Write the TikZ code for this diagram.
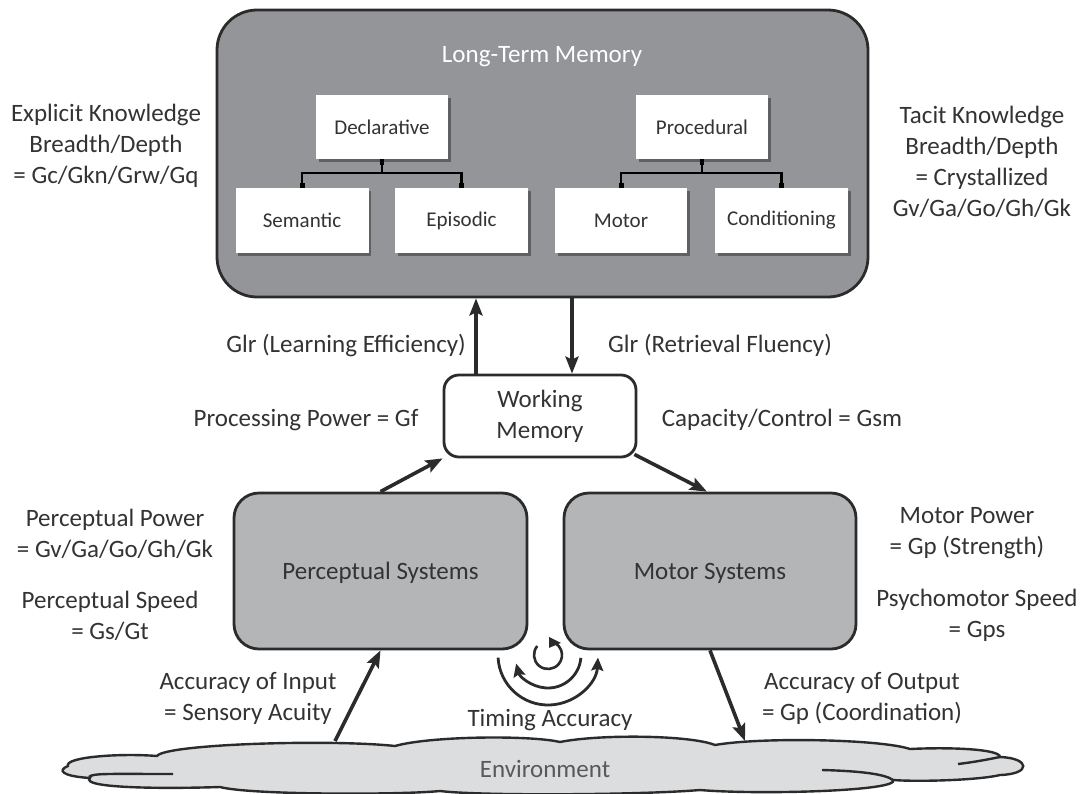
\documentclass[tikz,border=0pt]{standalone}
\usepackage{fontspec}
\setmainfont{Carlito}
\usetikzlibrary{arrows.meta,shadows}
\definecolor{dark}{HTML}{2B2B2B}
\definecolor{txt}{HTML}{333333}
\definecolor{ltmfill}{HTML}{939598}
\definecolor{sysfill}{HTML}{B4B5B7}
\definecolor{cloudfill}{HTML}{DCDDDF}
\definecolor{envtxt}{HTML}{58595B}
\begin{document}
\begin{tikzpicture}[x=1pt,y=-1pt,
  every node/.style={text=txt, font=\fontsize{25}{31}\selectfont, align=center, inner sep=0pt},
  bigbox/.style={draw=dark, line width=2.8pt, rounded corners=#1},
  smallbox/.style={draw=none, fill=white, font=\fontsize{21}{25}\selectfont,
     drop shadow={shadow xshift=2.5pt, shadow yshift=-2.5pt, opacity=0.35, fill=black}},
  treeline/.style={line width=2.2pt, draw=black},
  arr/.style={line width=3.6pt, draw=dark, -{Stealth[length=17pt,width=13pt,inset=3pt]}},
  tarr/.style={line width=2.8pt, draw=dark, -{Stealth[length=13pt,width=12pt,inset=2pt]}}
]
\useasboundingbox (0,0) rectangle (1084,793);
\fill[white] (0,0) rectangle (1084,793);

% Long-term memory
\node[bigbox=40pt, fill=ltmfill, minimum width=651pt, minimum height=287pt] (ltm) at (542.5,153.5) {};
\node[text=white] (ltmt) at (542,57) {Long-Term Memory};

\node[smallbox, minimum width=132pt, minimum height=64pt] (dec) at (382,127) {Declarative};
\node[smallbox, minimum width=132pt, minimum height=64pt] (pro) at (702,127) {Procedural};
\node[smallbox, minimum width=133pt, minimum height=65pt] (sem) at (302,220.5) {Semantic};
\node[smallbox, minimum width=133pt, minimum height=65pt] (epi) at (461.5,220.5) {Episodic};
\node[smallbox, minimum width=132pt, minimum height=65pt] (mot) at (621,220.5) {Motor};
\node[smallbox, minimum width=133pt, minimum height=65pt] (con) at (781.5,220.5) {Conditioning};

\draw[treeline, {Square[length=6pt,width=4pt]}-{Square[length=5pt,width=5pt]}] (dec.south) -- ++(0,14) -| (sem.north);
\draw[treeline, -{Square[length=5pt,width=5pt]}] (dec.south) ++(0,14) -| (epi.north);
\draw[treeline, {Square[length=6pt,width=4pt]}-{Square[length=5pt,width=5pt]}] (pro.south) -- ++(0,14) -| (mot.north);
\draw[treeline, -{Square[length=5pt,width=5pt]}] (pro.south) ++(0,14) -| (con.north);

% side texts top
\node (expl) at (106,146) {Explicit Knowledge\\Breadth/Depth\\= Gc/Gkn/Grw/Gq};
\node (tacit) at (982,161.5) {Tacit Knowledge\\Breadth/Depth\\= Crystallized\\Gv/Ga/Go/Gh/Gk};

% Working memory
\node[bigbox=15pt, fill=white, minimum width=192pt, minimum height=82pt] (wm) at (540,416) {Working\\Memory};

\draw[arr] ([xshift=-64pt]wm.north) -- ([xshift=-64pt]wm.north |- ltm.south);
\draw[arr] ([xshift=32pt]wm.north |- ltm.south) -- ([xshift=32pt]wm.north);

\node (glrl) at (346,345) {Glr (Learning Efficiency)};
\node (glrr) at (720,345) {Glr (Retrieval Fluency)};
\node (pp) at (306,420) {Processing Power = Gf};
\node (cc) at (782,420) {Capacity/Control = Gsm};

% Systems
\node[bigbox=25pt, fill=sysfill, minimum width=293pt, minimum height=156pt] (perc) at (380.5,571) {};
\node (perct) at (380.5,573) {Perceptual Systems};
\node[bigbox=25pt, fill=sysfill, minimum width=292pt, minimum height=156pt] (msys) at (710,571) {};
\node (msyst) at (710,573) {Motor Systems};

\draw[arr] (perc.north) -- (wm.south west);
\draw[arr] ([xshift=-3pt,yshift=4pt]wm.south east) -- ([xshift=-3pt]msys.north);

\node (ppow) at (115,533.5) {Perceptual Power\\= Gv/Ga/Go/Gh/Gk};
\node (pspd) at (110,615.5) {Perceptual Speed\\= Gs/Gt};
\node (mpow) at (967,533.5) {Motor Power\\= Gp (Strength)};
\node (mspd) at (977,615.5) {Psychomotor Speed\\= Gps};
\node (ain) at (248,698.5) {Accuracy of Input\\= Sensory Acuity};
\node (aout) at (862,698.5) {Accuracy of Output\\= Gp (Coordination)};

% Environment cloud
\draw[draw=dark, line width=2.4pt, fill=cloudfill]
  (68,766)
  .. controls (64,757) and (120,753) .. (157,756)
  .. controls (165,744) and (330,739) .. (395,746)
  .. controls (430,736) and (530,735) .. (560,742)
  .. controls (600,734) and (690,735) .. (715,745)
  .. controls (760,737) and (880,739) .. (910,749)
  .. controls (950,747) and (1000,749) .. (1000,757)
  .. controls (1030,758) and (1032,774) .. (1000,775)
  .. controls (980,780) and (920,782) .. (893,780)
  .. controls (900,791) and (760,795) .. (700,790)
  .. controls (640,795) and (480,796) .. (440,791)
  .. controls (400,795) and (250,795) .. (220,787)
  .. controls (160,789) and (80,788) .. (90,778)
  .. controls (60,776) and (58,770) .. (68,766) -- cycle;
\draw[draw=dark, line width=2.4pt] (89,777) .. controls (92,773) and (110,774) .. (173,774);
\draw[draw=dark, line width=2.4pt] (822,770) .. controls (860,771) and (885,774) .. (893,780);
\draw[draw=dark, line width=2.4pt] (958,764) .. controls (975,762) and (990,759) .. (1000,757);
\node[text=envtxt] (env) at (545,769) {Environment};
\coordinate (envL) at (335,741);
\coordinate (envR) at (745,741);

\draw[arr] (envL) -- (perc.south);
\draw[arr] (msys.south) -- (envR);

% Timing symbol
\begin{scope}[shift={(548,655)}, x=1pt, y=1pt]
  \draw[line width=2.6pt, draw=dark] (140:14) arc[start angle=140, end angle=420, radius=14];
  \fill[dark] (60:14) ++(-6,-5) -- ++(12,5) -- ++(-12,6) -- cycle;
  \draw[tarr] (-5:33) arc[start angle=-5, end angle=-165, radius=33];
  \draw[tarr] (183:50) arc[start angle=183, end angle=357, radius=50];
\end{scope}
\node (timing) at (550,720) {Timing Accuracy};
\end{tikzpicture}
\end{document}
